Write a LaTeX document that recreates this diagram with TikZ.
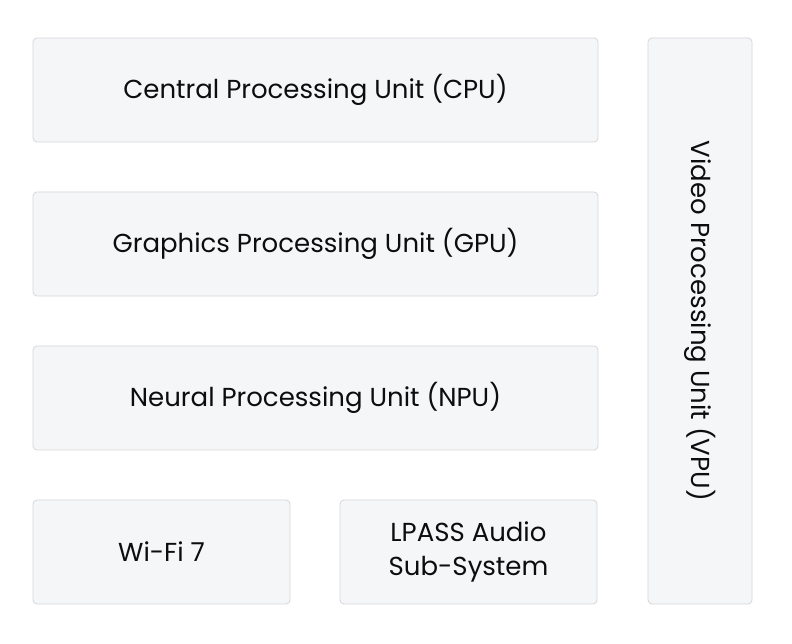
\documentclass[tikz,border=0pt]{standalone}
\usepackage{fontspec}
\setmainfont{Poppins}
\usetikzlibrary{positioning}
\definecolor{boxfill}{HTML}{F5F6F8}
\definecolor{boxline}{HTML}{D6D7DA}
\tikzset{
    block/.style={rectangle, rounded corners=4pt, draw=boxline, fill=boxfill, line width=0.8pt, outer sep=0pt, inner sep=0pt, align=center, font=\fontsize{26}{34}\selectfont, text=black!95},
    wide/.style={block, minimum width=565pt, minimum height=104pt},
    half/.style={block, minimum width=257pt, minimum height=104pt},
    tall/.style={block, minimum width=104pt, minimum height=566pt}
}
\begin{document}
\begin{tikzpicture}[x=1pt, y=1pt, node distance=50pt and 50pt]
    \useasboundingbox[fill=white] (0,0) rectangle (792,644);
    % Nodes
    \node[wide, anchor=north west] (cpu) at (33,606) {Central Processing Unit (CPU)};
    \node[wide, below=of cpu] (gpu) {Graphics Processing Unit (GPU)};
    \node[wide, below=of gpu] (npu) {Neural Processing Unit (NPU)};
    \node[half, below=of npu.south west, anchor=north west] (wifi) {Wi-Fi 7};
    \node[half, right=of wifi] (lpass) {LPASS Audio\\Sub-System};
    \node[tall, right=of cpu.north east, anchor=north west] (vpu) {\rotatebox{-90}{Video Processing Unit (VPU)}};
\end{tikzpicture}
\end{document}
